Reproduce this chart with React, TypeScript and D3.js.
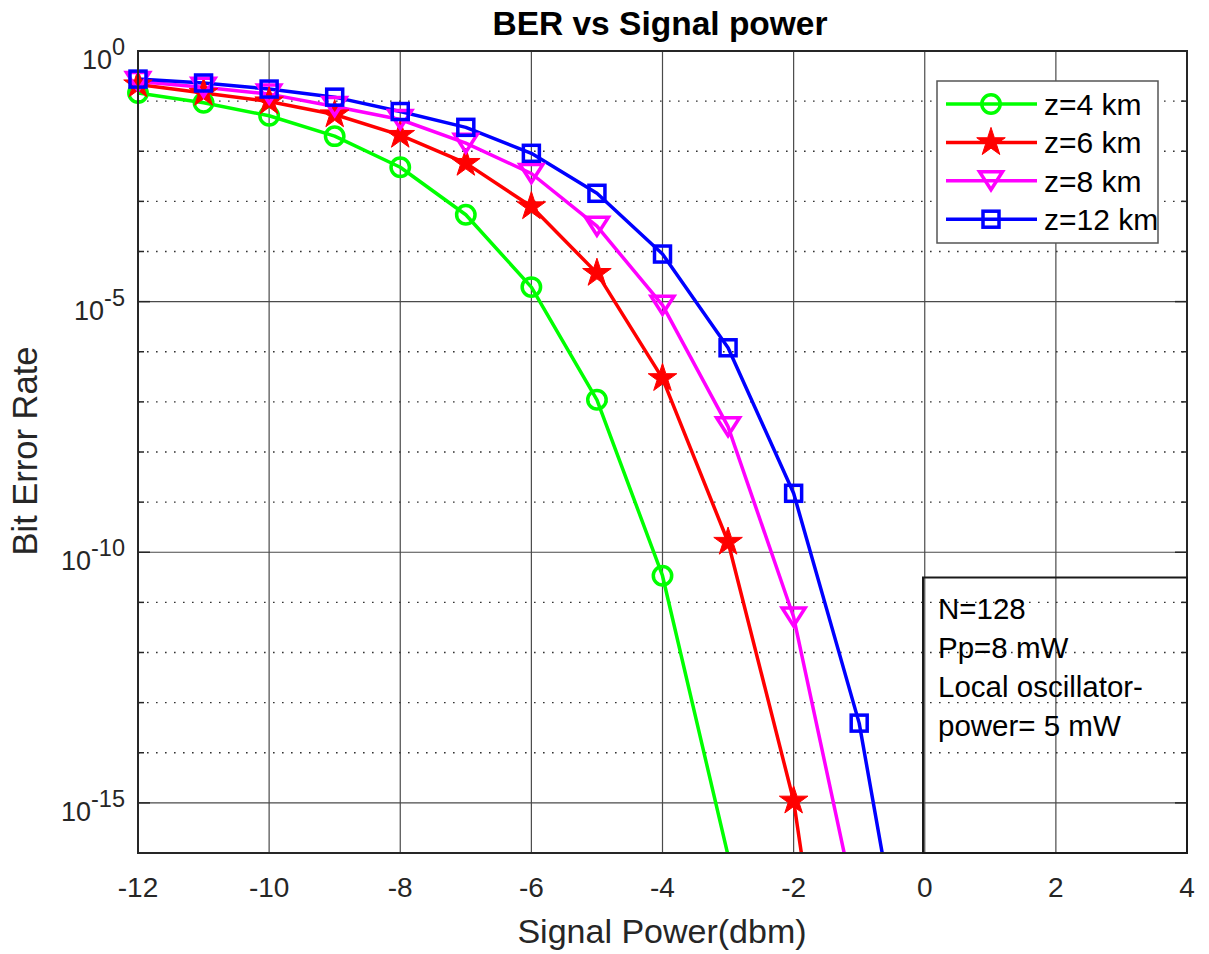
import React from "react";
import * as d3 from "d3";

// Signal power sweep (dBm) for each fibre length
const powerZ4 = [-12, -11, -10, -9, -8, -7, -6, -5, -4, -3];
const powerZ6 = [-12, -11, -10, -9, -8, -7, -6, -5, -4, -3, -2, -1];
const powerZ8 = [-12, -11, -10, -9, -8, -7, -6, -5, -4, -3, -2, -1];
const powerZ12 = [-12, -11, -10, -9, -8, -7, -6, -5, -4, -3, -2, -1, 0];

// Bit error rate for each fibre length
const berZ4 = [0.145, 0.093, 0.051, 0.02, 4.8e-3, 5.4e-4, 1.95e-5, 1.1e-7, 3.4e-11, 8.9e-17];
const berZ6 = [0.214, 0.145, 0.098, 0.054, 0.021, 5.8e-3, 7.9e-4, 3.7e-5, 2.95e-7, 1.6e-10, 1.1e-15, 1.6e-24];
const berZ8 = [0.245, 0.19, 0.138, 0.078, 0.043, 0.0145, 3.6e-3, 3.2e-4, 8.5e-6, 3.2e-8, 5.1e-12, 4e-18];
const berZ12 = [0.275, 0.23, 0.174, 0.12, 0.062, 0.03, 9.1e-3, 1.45e-3, 8.9e-5, 1.2e-6, 1.5e-9, 3.9e-14, 1.6e-21];

const seriesNames = ["z=4 km", "z=6 km", "z=8 km", "z=12 km"];
const seriesColors = ["#00ff00", "#ff0000", "#ff00ff", "#0000ff"];
const seriesMarkers = ["circle", "star", "triangleDown", "square"];

const xTicks = [-12, -10, -8, -6, -4, -2, 0, 2, 4];
const yMajorExponents = [0, -5, -10, -15];
const yMinorExponents = [-1, -2, -3, -4, -6, -7, -8, -9, -11, -12, -13, -14];

const noteLines = ["N=128", "Pp=8 mW", "Local oscillator-", "power= 5 mW"];

const W = 1209;
const H = 954;
const left = 138;
const right = 1187;
const top = 51;
const bottom = 853;

const FONT = "'Liberation Sans', Arial, Helvetica, sans-serif";
const AXIS_COLOR = "#262626";
const LINE_W = 3.5;

const x = d3.scaleLinear().domain([-12, 4]).range([left, right]);
const y = d3.scaleLog().domain([1, 1e-16]).range([top, bottom]);

function starPath(R: number) {
  const r = R * 0.382;
  const pts: [number, number][] = [];
  for (let i = 0; i < 10; i++) {
    const a = -Math.PI / 2 + (i * Math.PI) / 5;
    const rr = i % 2 === 0 ? R : r;
    pts.push([rr * Math.cos(a), rr * Math.sin(a)]);
  }
  return "M" + pts.map((p) => p.join(",")).join("L") + "Z";
}

function Marker({ kind, color, cx, cy }: { kind: string; color: string; cx: number; cy: number }) {
  const t = `translate(${cx},${cy})`;
  if (kind === "circle") {
    return <circle cx={cx} cy={cy} r={9.2} fill="none" stroke={color} strokeWidth={LINE_W} />;
  }
  if (kind === "star") {
    return <path transform={t} d={starPath(15)} fill={color} stroke={color} strokeWidth={1} />;
  }
  if (kind === "triangleDown") {
    return (
      <path
        transform={t}
        d="M-11.5,-9L11.5,-9L0,9Z"
        fill="none"
        stroke={color}
        strokeWidth={LINE_W}
        strokeLinejoin="miter"
      />
    );
  }
  return <rect x={cx - 8} y={cy - 8} width={16} height={16} fill="none" stroke={color} strokeWidth={LINE_W} />;
}

export default function App() {
  const series = [
    { xs: powerZ4, ys: berZ4 },
    { xs: powerZ6, ys: berZ6 },
    { xs: powerZ8, ys: berZ8 },
    { xs: powerZ12, ys: berZ12 },
  ];

  const line = d3
    .line<[number, number]>()
    .x((d) => x(d[0]))
    .y((d) => y(d[1]));

  const inRange = (px: number, v: number) => v >= 1e-16 && v <= 1 && px >= -12 && px <= 4;

  const legendX = 937;
  const legendY = 81;
  const legendRow = 38.4;

  return (
    <svg
      width={W}
      height={H}
      style={{ position: "absolute", left: 0, top: 0, background: "#fff" }}
      fontFamily={FONT}
    >
      <defs>
        <clipPath id="plotArea">
          <rect x={left} y={top} width={right - left} height={bottom - top} />
        </clipPath>
      </defs>
      <rect width={W} height={H} fill="#fff" />

      {/* grid */}
      {xTicks.map((t) => (
        <line key={"vg" + t} x1={x(t)} x2={x(t)} y1={top} y2={bottom} stroke="#4a4a4a" strokeWidth={1.2} />
      ))}
      {yMajorExponents.map((e) => (
        <line
          key={"hg" + e}
          x1={left}
          x2={right}
          y1={y(Math.pow(10, e))}
          y2={y(Math.pow(10, e))}
          stroke="#4a4a4a"
          strokeWidth={1.2}
        />
      ))}
      {yMinorExponents.map((e) => (
        <line
          key={"mg" + e}
          x1={left}
          x2={right}
          y1={y(Math.pow(10, e))}
          y2={y(Math.pow(10, e))}
          stroke="#333"
          strokeWidth={1.4}
          strokeDasharray="1.6,7.4"
        />
      ))}

      {/* ticks */}
      {yMajorExponents.map((e) => (
        <g key={"yt" + e} stroke={AXIS_COLOR} strokeWidth={1.5}>
          <line x1={left} x2={left + 12} y1={y(Math.pow(10, e))} y2={y(Math.pow(10, e))} />
          <line x1={right} x2={right - 12} y1={y(Math.pow(10, e))} y2={y(Math.pow(10, e))} />
        </g>
      ))}
      {yMinorExponents.map((e) => (
        <g key={"ymt" + e} stroke={AXIS_COLOR} strokeWidth={1.5}>
          <line x1={left} x2={left + 6} y1={y(Math.pow(10, e))} y2={y(Math.pow(10, e))} />
          <line x1={right} x2={right - 6} y1={y(Math.pow(10, e))} y2={y(Math.pow(10, e))} />
        </g>
      ))}

      {/* series lines */}
      <g clipPath="url(#plotArea)">
        {series.map((s, i) => (
          <path
            key={"l" + i}
            d={line(s.xs.map((v, j) => [v, s.ys[j]] as [number, number])) || ""}
            fill="none"
            stroke={seriesColors[i]}
            strokeWidth={LINE_W}
            strokeLinejoin="round"
          />
        ))}
      </g>

      {/* series markers */}
      {series.map((s, i) => (
        <g key={"m" + i}>
          {s.xs.map((v, j) =>
            inRange(v, s.ys[j]) ? (
              <Marker key={j} kind={seriesMarkers[i]} color={seriesColors[i]} cx={x(v)} cy={y(s.ys[j])} />
            ) : null
          )}
        </g>
      ))}

      {/* axes box */}
      <rect x={left} y={top} width={right - left} height={bottom - top} fill="none" stroke={AXIS_COLOR} strokeWidth={2} />

      {/* x tick labels */}
      {xTicks.map((t) => (
        <text key={"xl" + t} x={x(t)} y={897} textAnchor="middle" fontSize={28} fill={AXIS_COLOR}>
          {t}
        </text>
      ))}

      {/* y tick labels */}
      {yMajorExponents.map((e) => {
        const py = y(Math.pow(10, e));
        return (
          <text key={"yl" + e} x={125} y={py + 18} textAnchor="end" fill={AXIS_COLOR} fontSize={27}>
            <tspan>10</tspan>
            <tspan fontSize={23.5} dy={-14}>
              {e}
            </tspan>
          </text>
        );
      })}

      {/* axis labels and title */}
      <text x={662} y={943} textAnchor="middle" fontSize={34} fill={AXIS_COLOR}>
        Signal Power(dbm)
      </text>
      <text
        transform={`translate(37,451) rotate(-90)`}
        textAnchor="middle"
        fontSize={34.5}
        fill={AXIS_COLOR}
      >
        Bit Error Rate
      </text>
      <text x={660} y={35} textAnchor="middle" fontSize={33.5} fontWeight="bold" fill="#000">
        BER vs Signal power
      </text>

      {/* legend */}
      <rect x={legendX} y={legendY} width={221} height={162} fill="#fff" stroke="#555" strokeWidth={1.5} />
      {seriesNames.map((name, i) => {
        const ry = 104 + i * legendRow;
        return (
          <g key={"lg" + i}>
            <line x1={946} x2={1037} y1={ry} y2={ry} stroke={seriesColors[i]} strokeWidth={LINE_W} />
            <Marker kind={seriesMarkers[i]} color={seriesColors[i]} cx={991} cy={ry} />
            <text x={1044} y={ry + 11} fontSize={30} fill="#000">
              {name}
            </text>
          </g>
        );
      })}

      {/* annotation box */}
      <rect x={923} y={577.5} width={right - 923} height={bottom - 577.5} fill="none" stroke="#1a1a1a" strokeWidth={2} />
      {noteLines.map((t, i) => (
        <text key={"n" + i} x={938} y={618.5 + i * 39} fontSize={29.5} fill="#000">
          {t}
        </text>
      ))}
    </svg>
  );
}
